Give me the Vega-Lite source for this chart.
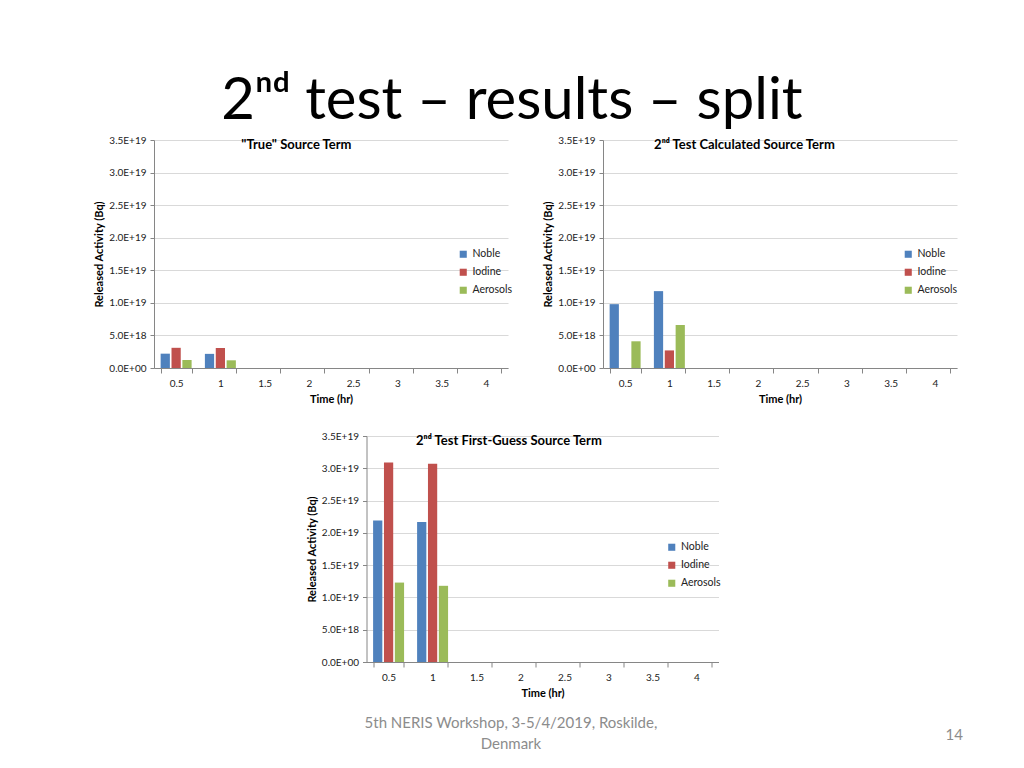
{
  "$schema": "https://vega.github.io/schema/vega-lite/v6.json",
  "padding": {"left": 93, "top": 73, "right": 5, "bottom": 5},
  "background": "white",
  "datasets": {
    "truth": [
      {"time": "0.5", "series": "Noble", "value": 2.2e18},
      {"time": "0.5", "series": "Iodine", "value": 3.1e18},
      {"time": "0.5", "series": "Aerosols", "value": 1.23e18},
      {"time": "1", "series": "Noble", "value": 2.17e18},
      {"time": "1", "series": "Iodine", "value": 3.07e18},
      {"time": "1", "series": "Aerosols", "value": 1.18e18}
    ],
    "calc": [
      {"time": "0.5", "series": "Noble", "value": 9.8e18},
      {"time": "0.5", "series": "Iodine", "value": 0},
      {"time": "0.5", "series": "Aerosols", "value": 4.1e18},
      {"time": "1", "series": "Noble", "value": 1.18e19},
      {"time": "1", "series": "Iodine", "value": 2.7e18},
      {"time": "1", "series": "Aerosols", "value": 6.6e18}
    ],
    "guess": [
      {"time": "0.5", "series": "Noble", "value": 2.19e19},
      {"time": "0.5", "series": "Iodine", "value": 3.09e19},
      {"time": "0.5", "series": "Aerosols", "value": 1.23e19},
      {"time": "1", "series": "Noble", "value": 2.17e19},
      {"time": "1", "series": "Iodine", "value": 3.07e19},
      {"time": "1", "series": "Aerosols", "value": 1.18e19}
    ]
  },
  "title": {"text": "14", "orient": "bottom", "anchor": "end", "frame": "bounds", "fontSize": 15, "fontWeight": "normal", "color": "#8C8C8C", "font": "Lato", "dy": -24, "dx": 5, "offset": 0},
  "vconcat": [
    {
      "title": {"text": "2ⁿᵈ test – results – split", "fontSize": 58, "fontWeight": "normal", "font": "Lato", "color": "#000000", "anchor": "middle", "frame": "bounds", "baseline": "alphabetic", "offset": -42, "dx": -14},
      "center": true,
      "spacing": 27,
      "resolve": {"legend": {"color": "independent"}},
      "vconcat": [
        {
          "spacing": 29,
          "resolve": {"legend": {"color": "independent"}},
          "hconcat": [
            {
              "width": 354, "height": 228,
              "data": {"name": "truth"},
              "title": {"text": "\"True\" Source Term", "dx": -7},
              "mark": {"type": "bar"},
              "encoding": {
                "x": {"field": "time", "type": "ordinal", "title": "Time (hr)", "scale": {"domain": ["0.5", "1", "1.5", "2", "2.5", "3", "3.5", "4"], "paddingInner": 0.3, "paddingOuter": 0.15}},
                "xOffset": {"field": "series", "type": "nominal", "scale": {"domain": ["Noble", "Iodine", "Aerosols"], "paddingInner": 0.15}},
                "y": {"field": "value", "type": "quantitative", "title": "Released Activity (Bq)", "scale": {"domain": [0, 3.5e19], "nice": false}},
                "color": {"field": "series", "type": "nominal", "scale": {"domain": ["Noble", "Iodine", "Aerosols"], "range": ["#4F81BD", "#C0504D", "#9BBB59"]}, "legend": {"orient": "none", "legendX": 304, "legendY": 109}}
              }
            },
            {
              "width": 354, "height": 228,
              "data": {"name": "calc"},
              "title": {"text": "2ⁿᵈ Test Calculated Source Term", "dx": -6},
              "mark": {"type": "bar"},
              "encoding": {
                "x": {"field": "time", "type": "ordinal", "title": "Time (hr)", "scale": {"domain": ["0.5", "1", "1.5", "2", "2.5", "3", "3.5", "4"], "paddingInner": 0.3, "paddingOuter": 0.15}},
                "xOffset": {"field": "series", "type": "nominal", "scale": {"domain": ["Noble", "Iodine", "Aerosols"], "paddingInner": 0.15}},
                "y": {"field": "value", "type": "quantitative", "title": "Released Activity (Bq)", "scale": {"domain": [0, 3.5e19], "nice": false}},
                "color": {"field": "series", "type": "nominal", "scale": {"domain": ["Noble", "Iodine", "Aerosols"], "range": ["#4F81BD", "#C0504D", "#9BBB59"]}, "legend": {"orient": "none", "legendX": 300, "legendY": 109}}
              }
            }
          ]
        },
        {
          "title": {"text": ["5th NERIS Workshop, 3-5/4/2019, Roskilde,", "Denmark"], "orient": "bottom", "anchor": "middle", "frame": "bounds", "fontSize": 15, "fontWeight": "normal", "color": "#8C8C8C", "font": "Lato", "lineHeight": 21, "offset": 18, "baseline": "top", "dx": -15},
          "resolve": {"legend": {"color": "independent"}},
          "hconcat": [
            {
              "width": 352, "height": 226,
              "data": {"name": "guess"},
              "title": {"text": "2ⁿᵈ Test First-Guess Source Term", "dx": -17},
              "mark": {"type": "bar"},
              "encoding": {
                "x": {"field": "time", "type": "ordinal", "title": "Time (hr)", "scale": {"domain": ["0.5", "1", "1.5", "2", "2.5", "3", "3.5", "4"], "paddingInner": 0.3, "paddingOuter": 0.15}},
                "xOffset": {"field": "series", "type": "nominal", "scale": {"domain": ["Noble", "Iodine", "Aerosols"], "paddingInner": 0.15}},
                "y": {"field": "value", "type": "quantitative", "title": "Released Activity (Bq)", "scale": {"domain": [0, 3.5e19], "nice": false}},
                "color": {"field": "series", "type": "nominal", "scale": {"domain": ["Noble", "Iodine", "Aerosols"], "range": ["#4F81BD", "#C0504D", "#9BBB59"]}, "legend": {"orient": "none", "legendX": 276, "legendY": 82, "padding": 24}}
              }
            }
          ]
        }
      ]
    }
  ],
  "config": {
    "font": "Lato",
    "view": {"stroke": null},
    "title": {"fontSize": 13, "fontWeight": "bold", "font": "Lato", "color": "#000000", "anchor": "middle", "frame": "bounds", "baseline": "middle", "offset": -17},
    "axis": {"labelFont": "Lato", "titleFont": "Lato", "labelFontSize": 10, "titleFontSize": 11, "titleFontWeight": "bold", "labelColor": "#222222", "titleColor": "#000000", "domainColor": "#868686", "tickColor": "#868686", "gridColor": "#D9D9D9"},
    "axisX": {"labelAngle": 0, "grid": false, "tickBand": "extent", "tickSize": 5, "labelPadding": 5, "titlePadding": 5},
    "axisY": {"values": [0, 5e18, 1e19, 1.5e19, 2e19, 2.5e19, 3e19, 3.5e19], "labelExpr": "datum.value == 0 ? '0.0E+00' : upper(format(datum.value, '.1e'))", "tickSize": 4, "labelPadding": 4, "titlePadding": 4, "grid": true},
    "legend": {"title": null, "symbolType": "square", "symbolSize": 50, "labelFontSize": 10.5, "labelFont": "Lato", "labelColor": "#222222", "rowPadding": 7, "padding": 0, "symbolStrokeWidth": 0}
  }
}
